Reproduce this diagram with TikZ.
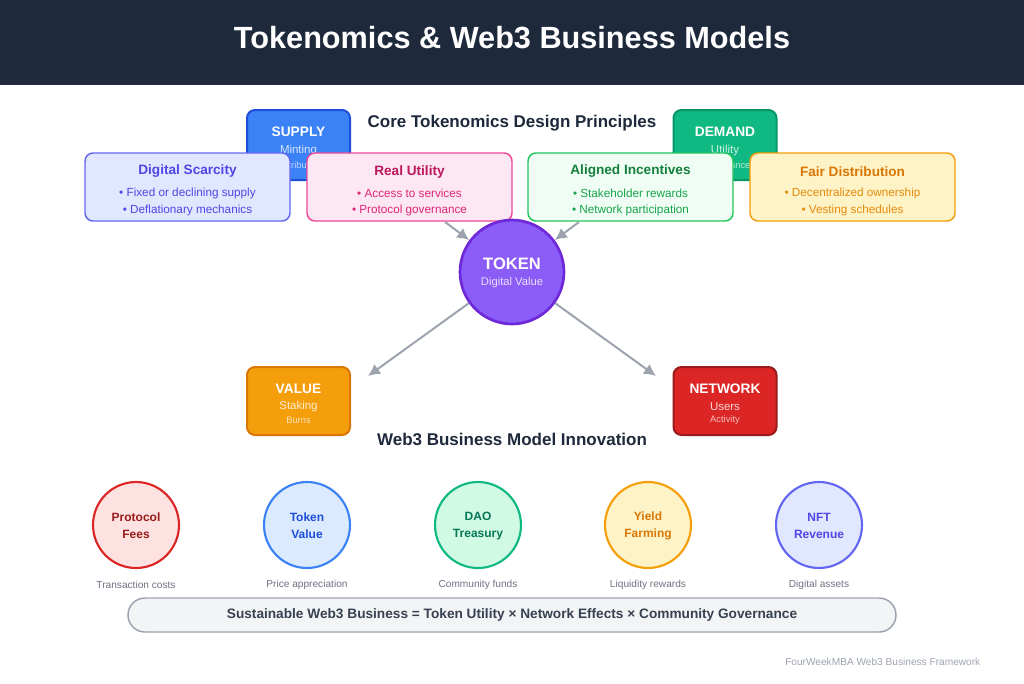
\documentclass[tikz,border=0pt]{standalone}
\usepackage{fontspec}
\setmainfont{Liberation Sans}
\usetikzlibrary{arrows.meta}

\definecolor{navy}{HTML}{1E293B}
\definecolor{supplyfill}{HTML}{3B82F6}
\definecolor{supplyline}{HTML}{1D4ED8}
\definecolor{demandfill}{HTML}{10B981}
\definecolor{demandline}{HTML}{059669}
\definecolor{scarfill}{HTML}{E0E7FF}
\definecolor{scarline}{HTML}{6366F1}
\definecolor{scartext}{HTML}{4F46E5}
\definecolor{utilfill}{HTML}{FCE7F3}
\definecolor{utilline}{HTML}{EC4899}
\definecolor{utiltitle}{HTML}{BE185D}
\definecolor{utiltext}{HTML}{DB2777}
\definecolor{incfill}{HTML}{F0FDF4}
\definecolor{incline}{HTML}{22C55E}
\definecolor{inctitle}{HTML}{15803D}
\definecolor{inctext}{HTML}{16A34A}
\definecolor{fairfill}{HTML}{FEF3C7}
\definecolor{fairline}{HTML}{F59E0B}
\definecolor{fairtitle}{HTML}{D97706}
\definecolor{fairtext}{HTML}{E58A0B}
\definecolor{tokenfill}{HTML}{8B5CF6}
\definecolor{tokenline}{HTML}{6D28D9}
\definecolor{arrowgray}{HTML}{9CA3AF}
\definecolor{valuefill}{HTML}{F59E0B}
\definecolor{valueline}{HTML}{D97706}
\definecolor{netfill}{HTML}{DC2626}
\definecolor{netline}{HTML}{991B1B}
\definecolor{feefill}{HTML}{FEE2E2}
\definecolor{feetext}{HTML}{991B1B}
\definecolor{tvfill}{HTML}{DBEAFE}
\definecolor{tvtext}{HTML}{1D4ED8}
\definecolor{daofill}{HTML}{D1FAE5}
\definecolor{daotext}{HTML}{047857}
\definecolor{captgray}{HTML}{6B7280}
\definecolor{formfill}{HTML}{F3F4F6}
\definecolor{formtext}{HTML}{374151}

\newcommand{\fs}[1]{\fontsize{#1}{#1}\selectfont}

\begin{document}
\begin{tikzpicture}[x=0.75pt, y=-0.75pt,
    smallbox/.style={draw, rounded corners=6pt, line width=1.5pt, minimum width=77.25pt, minimum height=52.5pt},
    pbox/.style={draw, rounded corners=6pt, line width=1.1pt, minimum width=153.75pt, minimum height=51pt},
    bizcircle/.style={draw, shape=circle, line width=1.6pt, minimum size=64.5pt},
    arr/.style={draw=arrowgray, line width=1.5pt, -{Latex[length=9pt, width=9pt]}},
    heading/.style={text=navy, font=\fs{12.75}\bfseries},
    boxtitle/.style={text=white, font=\fs{10.3}\bfseries},
    ptitle/.style={font=\fs{10.2}\bfseries},
    pitem/.style={font=\fs{8.8}},
    circtext/.style={font=\fs{9}\bfseries, align=center},
    caption/.style={text=captgray, font=\fs{7.6}}]

\useasboundingbox (0,0) rectangle (1024,683);

% header
\fill[navy] (0,0) rectangle (1024,85);
\node[text=white, font=\fs{23}\bfseries] (title) at (512,38) {Tokenomics \& Web3 Business Models};

% supply and demand behind the principles
\node[smallbox, draw=supplyline, fill=supplyfill] (supply) at (298.5,145) {};
\node[boxtitle] (supplyname) at (298.5,132) {SUPPLY};
\node[text=white, text opacity=0.8, font=\fs{8.6}] (supplya) at (298.5,151) {Minting};
\node[text=white, text opacity=0.7, font=\fs{7}] (supplyb) at (298.5,165) {Distribution};

\node[smallbox, draw=demandline, fill=demandfill] (demand) at (725,145) {};
\node[boxtitle] (demandname) at (725,132) {DEMAND};
\node[text=white, text opacity=0.8, font=\fs{8.6}] (demanda) at (725,151) {Utility};
\node[text=white, text opacity=0.7, font=\fs{7}] (demandb) at (725,165) {Governance};

\node[heading] (coreheading) at (512,123.5) {Core Tokenomics Design Principles};

% principles
\node[pbox, draw=scarline, fill=scarfill] (scarcity) at (187.5,187) {};
\node[ptitle, text=scartext] (scarname) at (187.5,171.5) {Digital Scarcity};
\node[pitem, text=scartext] (scara) at (187.5,193) {• Fixed or declining supply};
\node[pitem, text=scartext] (scarb) at (187.5,210) {• Deflationary mechanics};

\node[pbox, draw=utilline, fill=utilfill] (utility) at (409.5,187) {};
\node[ptitle, text=utiltitle] (utilname) at (409.5,171.5) {Real Utility};
\node[pitem, text=utiltext] (utila) at (409.5,193) {• Access to services};
\node[pitem, text=utiltext] (utilb) at (409.5,210) {• Protocol governance};

\node[pbox, draw=incline, fill=incfill] (incentives) at (630.5,187) {};
\node[ptitle, text=inctitle] (incname) at (630.5,171.5) {Aligned Incentives};
\node[pitem, text=inctext] (inca) at (630.5,193) {• Stakeholder rewards};
\node[pitem, text=inctext] (incb) at (630.5,210) {• Network participation};

\node[pbox, draw=fairline, fill=fairfill] (fair) at (852.5,187) {};
\node[ptitle, text=fairtitle] (fairname) at (852.5,171.5) {Fair Distribution};
\node[pitem, text=fairtext] (faira) at (852.5,193) {• Decentralized ownership};
\node[pitem, text=fairtext] (fairb) at (852.5,210) {• Vesting schedules};

% token
\node[draw=tokenline, fill=tokenfill, shape=circle, line width=2pt, minimum size=78pt] (token) at (512,272) {};
\node[text=white, font=\fs{12.4}\bfseries] (tokenname) at (512,264) {TOKEN};
\node[text=white, text opacity=0.8, font=\fs{8.4}] (tokensub) at (512,283) {Digital Value};

\coordinate (utilout) at (445,222);
\coordinate (incout) at (579,222);
\coordinate (valuein) at (368,376);
\coordinate (netin) at (656,376);

\draw[arr] (utilout) -- (token);
\draw[arr] (incout) -- (token);
\draw[arr] (token) -- (valuein);
\draw[arr] (token) -- (netin);

% value and network
\node[smallbox, draw=valueline, fill=valuefill, minimum height=51pt] (value) at (298.5,401) {};
\node[boxtitle] (valuename) at (298.5,389) {VALUE};
\node[text=white, text opacity=0.8, font=\fs{8.6}] (valuea) at (298.5,407) {Staking};
\node[text=white, text opacity=0.7, font=\fs{7}] (valueb) at (298.5,420) {Burns};

\node[smallbox, draw=netline, fill=netfill, minimum height=51pt] (network) at (725,401) {};
\node[boxtitle] (netname) at (725,389) {NETWORK};
\node[text=white, text opacity=0.8, font=\fs{8.6}] (neta) at (725,407) {Users};
\node[text=white, text opacity=0.7, font=\fs{7}] (netb) at (725,420) {Activity};

\node[heading] (bizheading) at (512,439) {Web3 Business Model Innovation};

% business models
\node[bizcircle, draw=netfill, fill=feefill] (fees) at (136,525) {};
\node[circtext, text=feetext] (feesname) at (136,526) {Protocol\\[3.5pt]Fees};
\node[caption] (feescap) at (136,585) {Transaction costs};

\node[bizcircle, draw=supplyfill, fill=tvfill] (tokval) at (307,525) {};
\node[circtext, text=tvtext] (tokvalname) at (307,526) {Token\\[3.5pt]Value};
\node[caption] (tokvalcap) at (307,585) {Price appreciation};

\node[bizcircle, draw=demandfill, fill=daofill] (dao) at (478,525) {};
\node[circtext, text=daotext] (daoname) at (478,526) {DAO\\[3.5pt]Treasury};
\node[caption] (daocap) at (478,585) {Community funds};

\node[bizcircle, draw=fairline, fill=fairfill] (yield) at (648,525) {};
\node[circtext, text=fairtitle] (yieldname) at (648,526) {Yield\\[3.5pt]Farming};
\node[caption] (yieldcap) at (648,585) {Liquidity rewards};

\node[bizcircle, draw=scarline, fill=scarfill] (nft) at (819,525) {};
\node[circtext, text=scartext] (nftname) at (819,526) {NFT\\[3.5pt]Revenue};
\node[caption] (nftcap) at (819,585) {Digital assets};

% formula
\node[draw=arrowgray, fill=formfill, line width=1.1pt, rounded corners=12.75pt, minimum width=576pt, minimum height=25.5pt] (formula) at (512,615) {};
\node[text=formtext, font=\fs{10.25}\bfseries] (formulatext) at (512,615) {Sustainable Web3 Business = Token Utility × Network Effects × Community Governance};

\node[text=arrowgray, font=\fs{7.6}, anchor=east] (footer) at (985,662) {FourWeekMBA Web3 Business Framework};
\end{tikzpicture}
\end{document}
